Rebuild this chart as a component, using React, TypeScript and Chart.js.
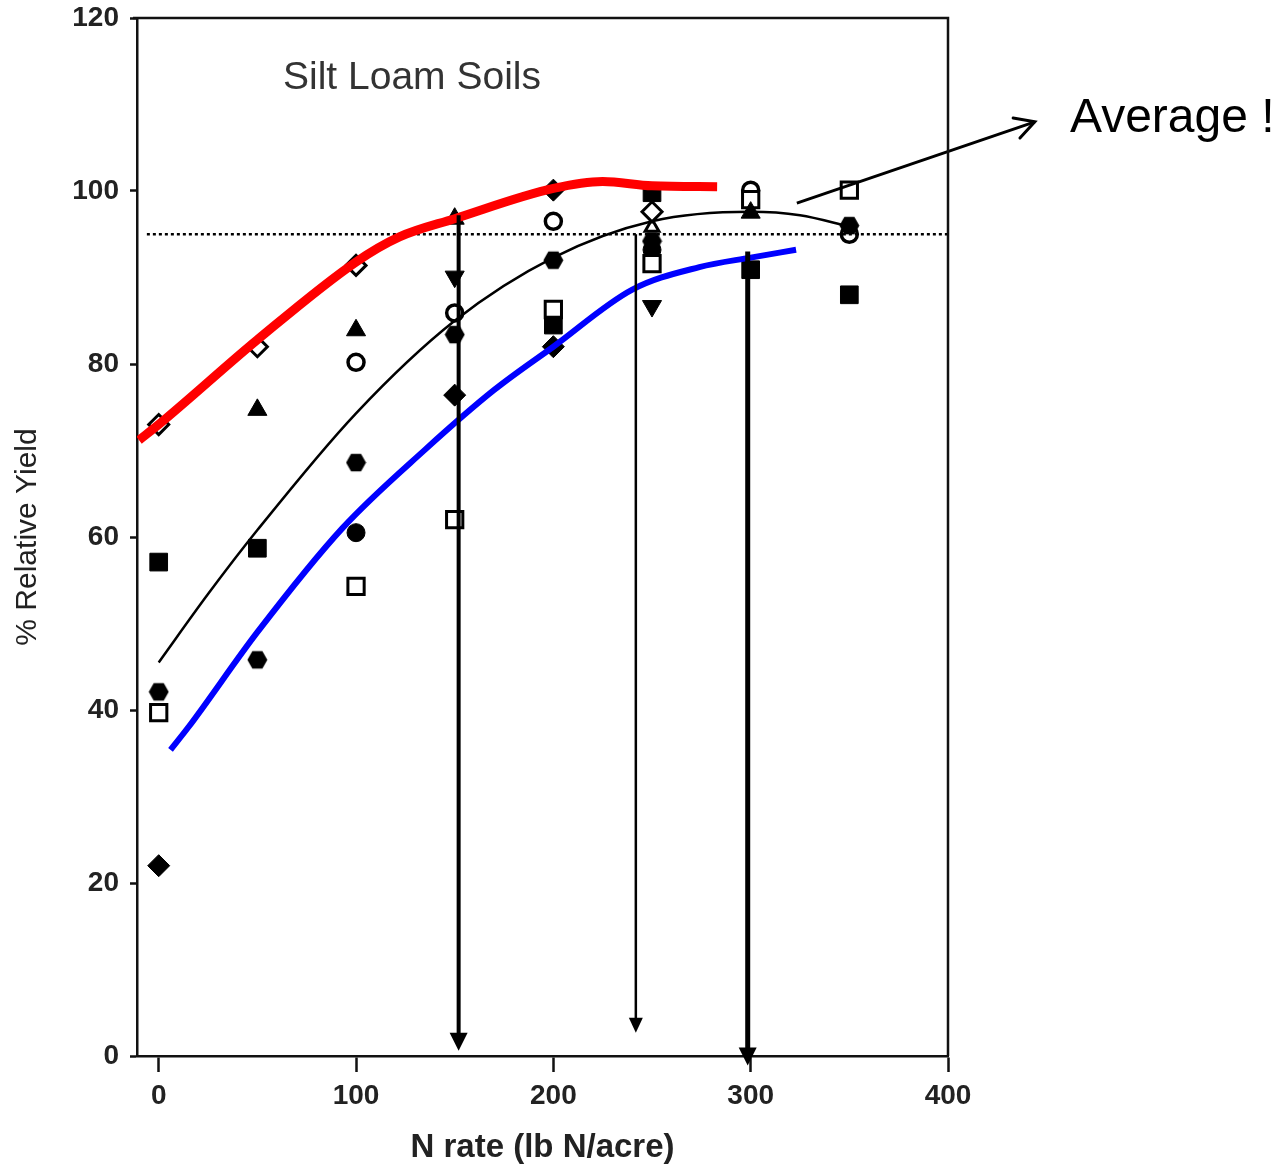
import React, { useEffect, useRef } from "react";
import { Chart, registerables } from "chart.js";

Chart.register(...registerables);

const FONT = "'Liberation Sans', Arial, Helvetica, sans-serif";

// Axis setup
const X_TICKS = [0, 100, 200, 300, 400];
const Y_TICKS = [0, 20, 40, 60, 80, 100, 120];
const X_MIN = -11;
const X_MAX = 400;
const Y_MIN = 0;
const Y_MAX = 120;

// Observed relative yields, grouped by marker symbol: [N rate, % relative yield]
const OPEN_DIAMOND = [[0, 73], [50, 82], [100, 91.4], [250, 97.6]];
const FILLED_TRIANGLE = [[50, 74.7], [100, 83.9], [150, 96.8], [300, 97.5]];
const FILLED_SQUARE = [[0, 57.1], [50, 58.7], [200, 84.5], [250, 99.8], [300, 90.9], [350, 88]];
const OPEN_SQUARE = [[0, 39.7], [100, 54.3], [150, 62], [200, 86.3], [250, 91.6], [300, 99], [350, 100.1]];
const FILLED_DIAMOND = [[0, 22], [150, 76.4], [200, 82], [200, 100.1]];
const FILLED_HEXAGON = [[0, 42.1], [50, 45.8], [100, 68.6], [150, 83.4], [200, 92], [250, 94.2], [350, 96]];
const FILLED_CIRCLE = [[100, 60.5], [250, 93.2]];
const OPEN_CIRCLE = [[100, 80.2], [150, 85.9], [200, 96.5], [300, 100.1], [350, 95]];
const FILLED_DOWN_TRIANGLE = [[150, 90.1], [250, 86.7]];
const OPEN_TRIANGLE = [[250, 95.8]];

// Response curves
const RED_CURVE = [[-10, 71.2], [0, 73.0], [50, 82.8], [100, 91.8], [122, 94.7], [150, 96.8], [200, 100.3], [225, 101.1], [250, 100.6], [283, 100.5]];
const BLACK_CURVE = [[0, 45.5], [25, 53.4], [50, 60.8], [100, 74.3], [150, 85], [200, 92.3], [250, 96.5], [300, 97.6], [325, 97.2], [350, 95.9]];
const BLUE_CURVE = [[6, 35.4], [15, 38], [50, 49], [93, 61], [135, 70.1], [170, 77], [200, 82], [240, 88.6], [274, 91.2], [300, 92.3], [323, 93.2]];

// 95 % relative yield reference line
const THRESHOLD_Y = 95;
const THRESHOLD_X = [-6, 400];

// Vertical arrows (N rate at which each curve reaches 95 %)
const ARROW_X = [152, 241.8, 298.5];
const ARROW_TOP = [97.2, 95.0, 93.0];
const ARROW_TIP = [0.6, 2.7, -1.1];
const ARROW_WIDTH = [4, 2.5, 5];

// "Average !" pointer arrow
const AVG_FROM = [323.4, 98.6];
const AVG_TO = [444, 108];

const TITLE_TEXT = "Silt Loam Soils";
const AVG_TEXT = "Average !";

const toXY = (arr: number[][]) => arr.map(([x, y]) => ({ x, y }));

function makeHexagon(size: number): HTMLCanvasElement {
  const c = document.createElement("canvas");
  c.width = size;
  c.height = size;
  const g = c.getContext("2d")!;
  const r = size / 2;
  g.beginPath();
  for (let i = 0; i < 6; i++) {
    const a = (i * Math.PI) / 3;
    const px = r + Math.cos(a) * (r - 0.5);
    const py = r + Math.sin(a) * (r - 0.5);
    if (i === 0) g.moveTo(px, py);
    else g.lineTo(px, py);
  }
  g.closePath();
  g.fillStyle = "#000";
  g.fill();
  return c;
}

export default function App() {
  const ref = useRef<HTMLCanvasElement | null>(null);

  useEffect(() => {
    if (!ref.current) return;
    const hex = makeHexagon(21);

    const marker = (data: number[][], style: any, filled: boolean, radius: number, rotation = 0, bw = 3) => ({
      data: toXY(data),
      showLine: false,
      pointStyle: style,
      pointRadius: radius,
      pointRotation: rotation,
      backgroundColor: filled ? "#000" : "#fff",
      borderColor: "#000",
      borderWidth: filled ? 1 : bw,
    });

    const curve = (data: number[][], color: string, width: number) => ({
      data: toXY(data),
      showLine: true,
      pointRadius: 0,
      borderColor: color,
      borderWidth: width,
      cubicInterpolationMode: "monotone",
      fill: false,
    });

    const arrowSets = ARROW_X.map((x, i) => ({
      data: [
        { x, y: ARROW_TOP[i] },
        { x, y: ARROW_TIP[i] + 1.2 },
      ],
      showLine: true,
      pointRadius: 0,
      borderColor: "#000",
      borderWidth: ARROW_WIDTH[i],
      clip: false,
    }));

    const annotations = {
      id: "annotations",
      afterDatasetsDraw(chart: any) {
        const { ctx, chartArea, scales } = chart;
        const xs = scales.x;
        const ys = scales.y;
        ctx.save();
        // top and right frame
        ctx.strokeStyle = "#111";
        ctx.lineWidth = 2.5;
        ctx.beginPath();
        ctx.moveTo(chartArea.left - 4, chartArea.top);
        ctx.lineTo(chartArea.right, chartArea.top);
        ctx.lineTo(chartArea.right, chartArea.bottom);
        ctx.stroke();

        // vertical arrowheads
        ARROW_X.forEach((x, i) => {
          const px = xs.getPixelForValue(x);
          const tip = ys.getPixelForValue(ARROW_TIP[i]);
          const w = ARROW_WIDTH[i] > 3 ? 9 : 7;
          const h = ARROW_WIDTH[i] > 3 ? 18 : 15;
          ctx.fillStyle = "#000";
          ctx.beginPath();
          ctx.moveTo(px, tip);
          ctx.lineTo(px - w, tip - h);
          ctx.lineTo(px + w, tip - h);
          ctx.closePath();
          ctx.fill();
        });

        // open arrowhead for "Average !" pointer
        const ax0 = xs.getPixelForValue(AVG_FROM[0]);
        const ay0 = ys.getPixelForValue(AVG_FROM[1]);
        const ax1 = xs.getPixelForValue(AVG_TO[0]);
        const ay1 = ys.getPixelForValue(AVG_TO[1]);
        const ang = Math.atan2(ay1 - ay0, ax1 - ax0);
        const L = 22;
        ctx.strokeStyle = "#000";
        ctx.lineWidth = 3;
        ctx.lineCap = "round";
        ctx.beginPath();
        ctx.moveTo(ax1 - L * Math.cos(ang - 0.5), ay1 - L * Math.sin(ang - 0.5));
        ctx.lineTo(ax1, ay1);
        ctx.lineTo(ax1 - L * Math.cos(ang + 0.5), ay1 - L * Math.sin(ang + 0.5));
        ctx.stroke();

        // texts
        ctx.fillStyle = "#333";
        ctx.font = `39px ${FONT}`;
        ctx.textAlign = "center";
        ctx.textBaseline = "alphabetic";
        ctx.fillText(TITLE_TEXT, 412, 89);

        ctx.fillStyle = "#000";
        ctx.font = `48px ${FONT}`;
        ctx.textAlign = "left";
        ctx.fillText(AVG_TEXT, 1070, 132);
        ctx.restore();
      },
    };

    const chart = new Chart(ref.current, {
      type: "scatter",
      data: {
        datasets: [
          ...arrowSets,
          {
            data: [
              { x: AVG_FROM[0], y: AVG_FROM[1] },
              { x: AVG_TO[0], y: AVG_TO[1] },
            ],
            showLine: true,
            pointRadius: 0,
            borderColor: "#000",
            borderWidth: 3,
            clip: false,
          },
          curve(RED_CURVE, "#ff0000", 9),
          curve(BLUE_CURVE, "#0000ff", 6),
          curve(BLACK_CURVE, "#000", 2.5),
          {
            data: THRESHOLD_X.map((x) => ({ x, y: THRESHOLD_Y })),
            showLine: true,
            pointRadius: 0,
            borderColor: "#000",
            borderWidth: 2.5,
            borderDash: [3, 3],
          },
          marker(OPEN_DIAMOND, "rectRot", false, 10),
          marker(FILLED_TRIANGLE, "triangle", true, 11),
          marker(FILLED_SQUARE, "rect", true, 12.5),
          marker(OPEN_SQUARE, "rect", false, 11.5),
          marker(FILLED_DIAMOND, "rectRot", true, 11),
          marker(FILLED_HEXAGON, hex, true, 10),
          marker(FILLED_CIRCLE, "circle", true, 9),
          marker(OPEN_CIRCLE, "circle", false, 8, 0, 3.5),
          marker(FILLED_DOWN_TRIANGLE, "triangle", true, 11, 180),
          marker(OPEN_TRIANGLE, "triangle", false, 8),
        ] as any,
      },
      options: {
        responsive: false,
        animation: false,
        events: [],
        layout: { padding: { left: 0, top: 18, right: 1285 - 948, bottom: 0 } },
        plugins: {
          legend: { display: false },
          tooltip: { enabled: false },
        },
        scales: {
          x: {
            type: "linear",
            min: X_MIN,
            max: X_MAX,
            afterBuildTicks: (axis: any) => {
              axis.ticks = X_TICKS.map((v) => ({ value: v }));
            },
            afterFit: (axis: any) => {
              axis.height = 1165 - 1056;
              axis.paddingLeft = 0;
              axis.paddingRight = 0;
              axis.paddingTop = 0;
              axis.paddingBottom = 0;
            },
            grid: {
              drawOnChartArea: false,
              tickLength: 16,
              tickWidth: 2.5,
              tickColor: "#111",
            },
            border: { color: "#111", width: 2.5 },
            ticks: {
              color: "#222",
              padding: 7,
              maxRotation: 0,
              font: { family: FONT, size: 28, weight: "bold" },
            },
            title: {
              display: true,
              text: "N rate (lb N/acre)",
              color: "#222",
              font: { family: FONT, size: 33, weight: "bold", lineHeight: 1 },
              padding: { top: 0, bottom: 1 },
            },
          },
          y: {
            type: "linear",
            min: Y_MIN,
            max: Y_MAX,
            afterBuildTicks: (axis: any) => {
              axis.ticks = Y_TICKS.map((v) => ({ value: v }));
            },
            afterFit: (axis: any) => {
              axis.width = 137;
              axis.paddingLeft = 0;
              axis.paddingRight = 0;
              axis.paddingTop = 0;
              axis.paddingBottom = 0;
            },
            grid: {
              drawOnChartArea: false,
              tickLength: 7,
              tickWidth: 2.5,
              tickColor: "#111",
            },
            border: { color: "#111", width: 2.5 },
            ticks: {
              color: "#222",
              padding: 11,
              font: { family: FONT, size: 28, weight: "bold" },
            },
            title: {
              display: true,
              text: "% Relative Yield",
              color: "#222",
              font: { family: FONT, size: 30, weight: "normal", lineHeight: 1.2 },
              padding: { top: 10, bottom: 0 },
            },
          },
        },
      } as any,
      plugins: [annotations],
    });

    return () => chart.destroy();
  }, []);

  return (
    <div style={{ position: "absolute", left: 0, top: 0, width: 1285, height: 1165, background: "#fff" }}>
      <canvas ref={ref} width={1285} height={1165} style={{ display: "block" }} />
    </div>
  );
}
